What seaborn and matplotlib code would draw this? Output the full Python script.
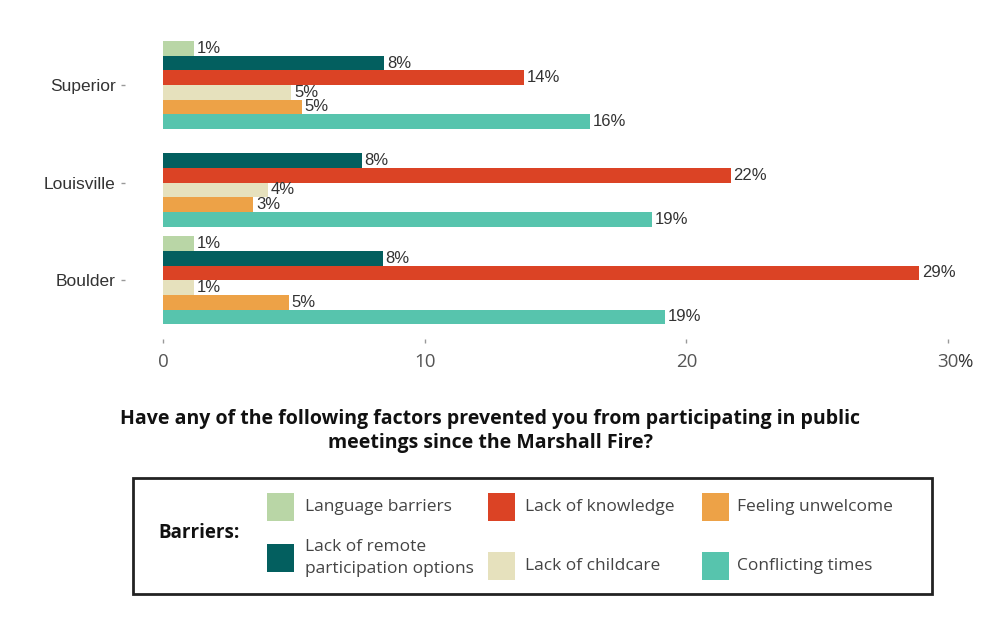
import matplotlib
matplotlib.use("Agg")
import matplotlib.pyplot as plt
from matplotlib.patches import Rectangle
import pandas as pd
import seaborn as sns

# Survey shares (%) per town and barrier
towns = ['Superior', 'Louisville', 'Boulder']
barriers = ['Language barriers', 'Lack of remote\nparticipation options',
            'Lack of knowledge', 'Lack of childcare', 'Feeling unwelcome',
            'Conflicting times']
colors = ['#b9d6a6', '#035f5f', '#db4325', '#e6e1bd', '#eda247', '#57c4ad']

language = [1.2, None, 1.2]
remote = [8.45, 7.6, 8.4]
knowledge = [13.8, 21.7, 28.9]
childcare = [4.9, 4.0, 1.2]
unwelcome = [5.3, 3.45, 4.8]
conflicting = [16.3, 18.7, 19.2]

x_ticks = [0, 10, 20, 30]
title = ('Have any of the following factors prevented you from participating in public\n'
         'meetings since the Marshall Fire?')

series = [language, remote, knowledge, childcare, unwelcome, conflicting]
rows = []
for barrier, vals in zip(barriers, series):
    for town, v in zip(towns, vals):
        rows.append({'town': town, 'barrier': barrier, 'pct': v})
df = pd.DataFrame(rows).dropna()

sns.set_style('white')
plt.rcParams['font.family'] = ['Liberation Sans', 'DejaVu Sans']

W, H = 1000, 619
fig = plt.figure(figsize=(10, 6.19), dpi=100)
ax = fig.add_axes([0.1253, 1 - 338.9 / H, 0.829, 312.5 / H])

sns.barplot(data=df, y='town', x='pct', hue='barrier', order=towns,
            hue_order=barriers, palette=colors, orient='h', width=0.9,
            dodge=True, saturation=1, errorbar=None, linewidth=0,
            legend=False, ax=ax)

for c in ax.containers:
    ax.bar_label(c, fmt='{:.0f}%', padding=2, fontsize=12, color='#333333')

ax.set_xlim(-1.44, 30.24)
ax.set_ylim(2.6, -0.6)
ax.set_xlabel('')
ax.set_ylabel('')
tick_len, tick_pad = 3, 7
ax.set_xticks(x_ticks, [str(t) for t in x_ticks], fontfamily='Open Sans')
ax.tick_params(axis='x', bottom=True, length=tick_len, width=1, color='#999999',
               pad=tick_pad, labelsize=13.5, labelcolor='#555555')
ax.tick_params(axis='y', left=True, length=3, width=1, color='#999999',
               pad=4, labelsize=12.5, labelcolor='#333333')
# percent sign glued to the last tick label
ax.annotate('%', xy=(x_ticks[-1], 0), xycoords=('data', 'axes fraction'),
            xytext=(6.5, -(tick_len + tick_pad)), textcoords='offset points',
            ha='left', va='top', fontsize=13.5, color='#333333',
            fontfamily='Open Sans')
sns.despine(ax=ax, left=True, bottom=True)

# Title under the chart
fig.text(490 / W, 1 - 431 / H, title, ha='center', va='center',
         fontsize=14, fontweight='bold', fontfamily='Open Sans',
         color='#111111', linespacing=1.3)

# Legend box drawn by hand to follow the original layout
def px(x, y):
    return x / W, 1 - y / H

fig.patches.append(Rectangle(px(133, 594), 799 / W, 116 / H, fill=False,
                             edgecolor='#222222', linewidth=2,
                             transform=fig.transFigure))
fig.text(*px(158, 533), 'Barriers:', ha='left', va='center', fontsize=13.5,
         fontweight='bold', fontfamily='Open Sans', color='#111111')

patch_x = [267, 488, 702]
text_x = [305, 525, 737]
row_y = [[507, 558], [507, 566], [507, 566]]
for i, (label, col) in enumerate(zip(barriers, colors)):
    c, r = divmod(i, 2)
    cy = row_y[c][r]
    fig.patches.append(Rectangle(px(patch_x[c], cy + 14), 27 / W, 28 / H,
                                 facecolor=col, edgecolor='none',
                                 transform=fig.transFigure))
    fig.text(*px(text_x[c], cy), label, ha='left', va='center', fontsize=12.5,
             fontfamily='Open Sans', color='#444444', linespacing=1.45)

fig.savefig('out.png', dpi=100)
